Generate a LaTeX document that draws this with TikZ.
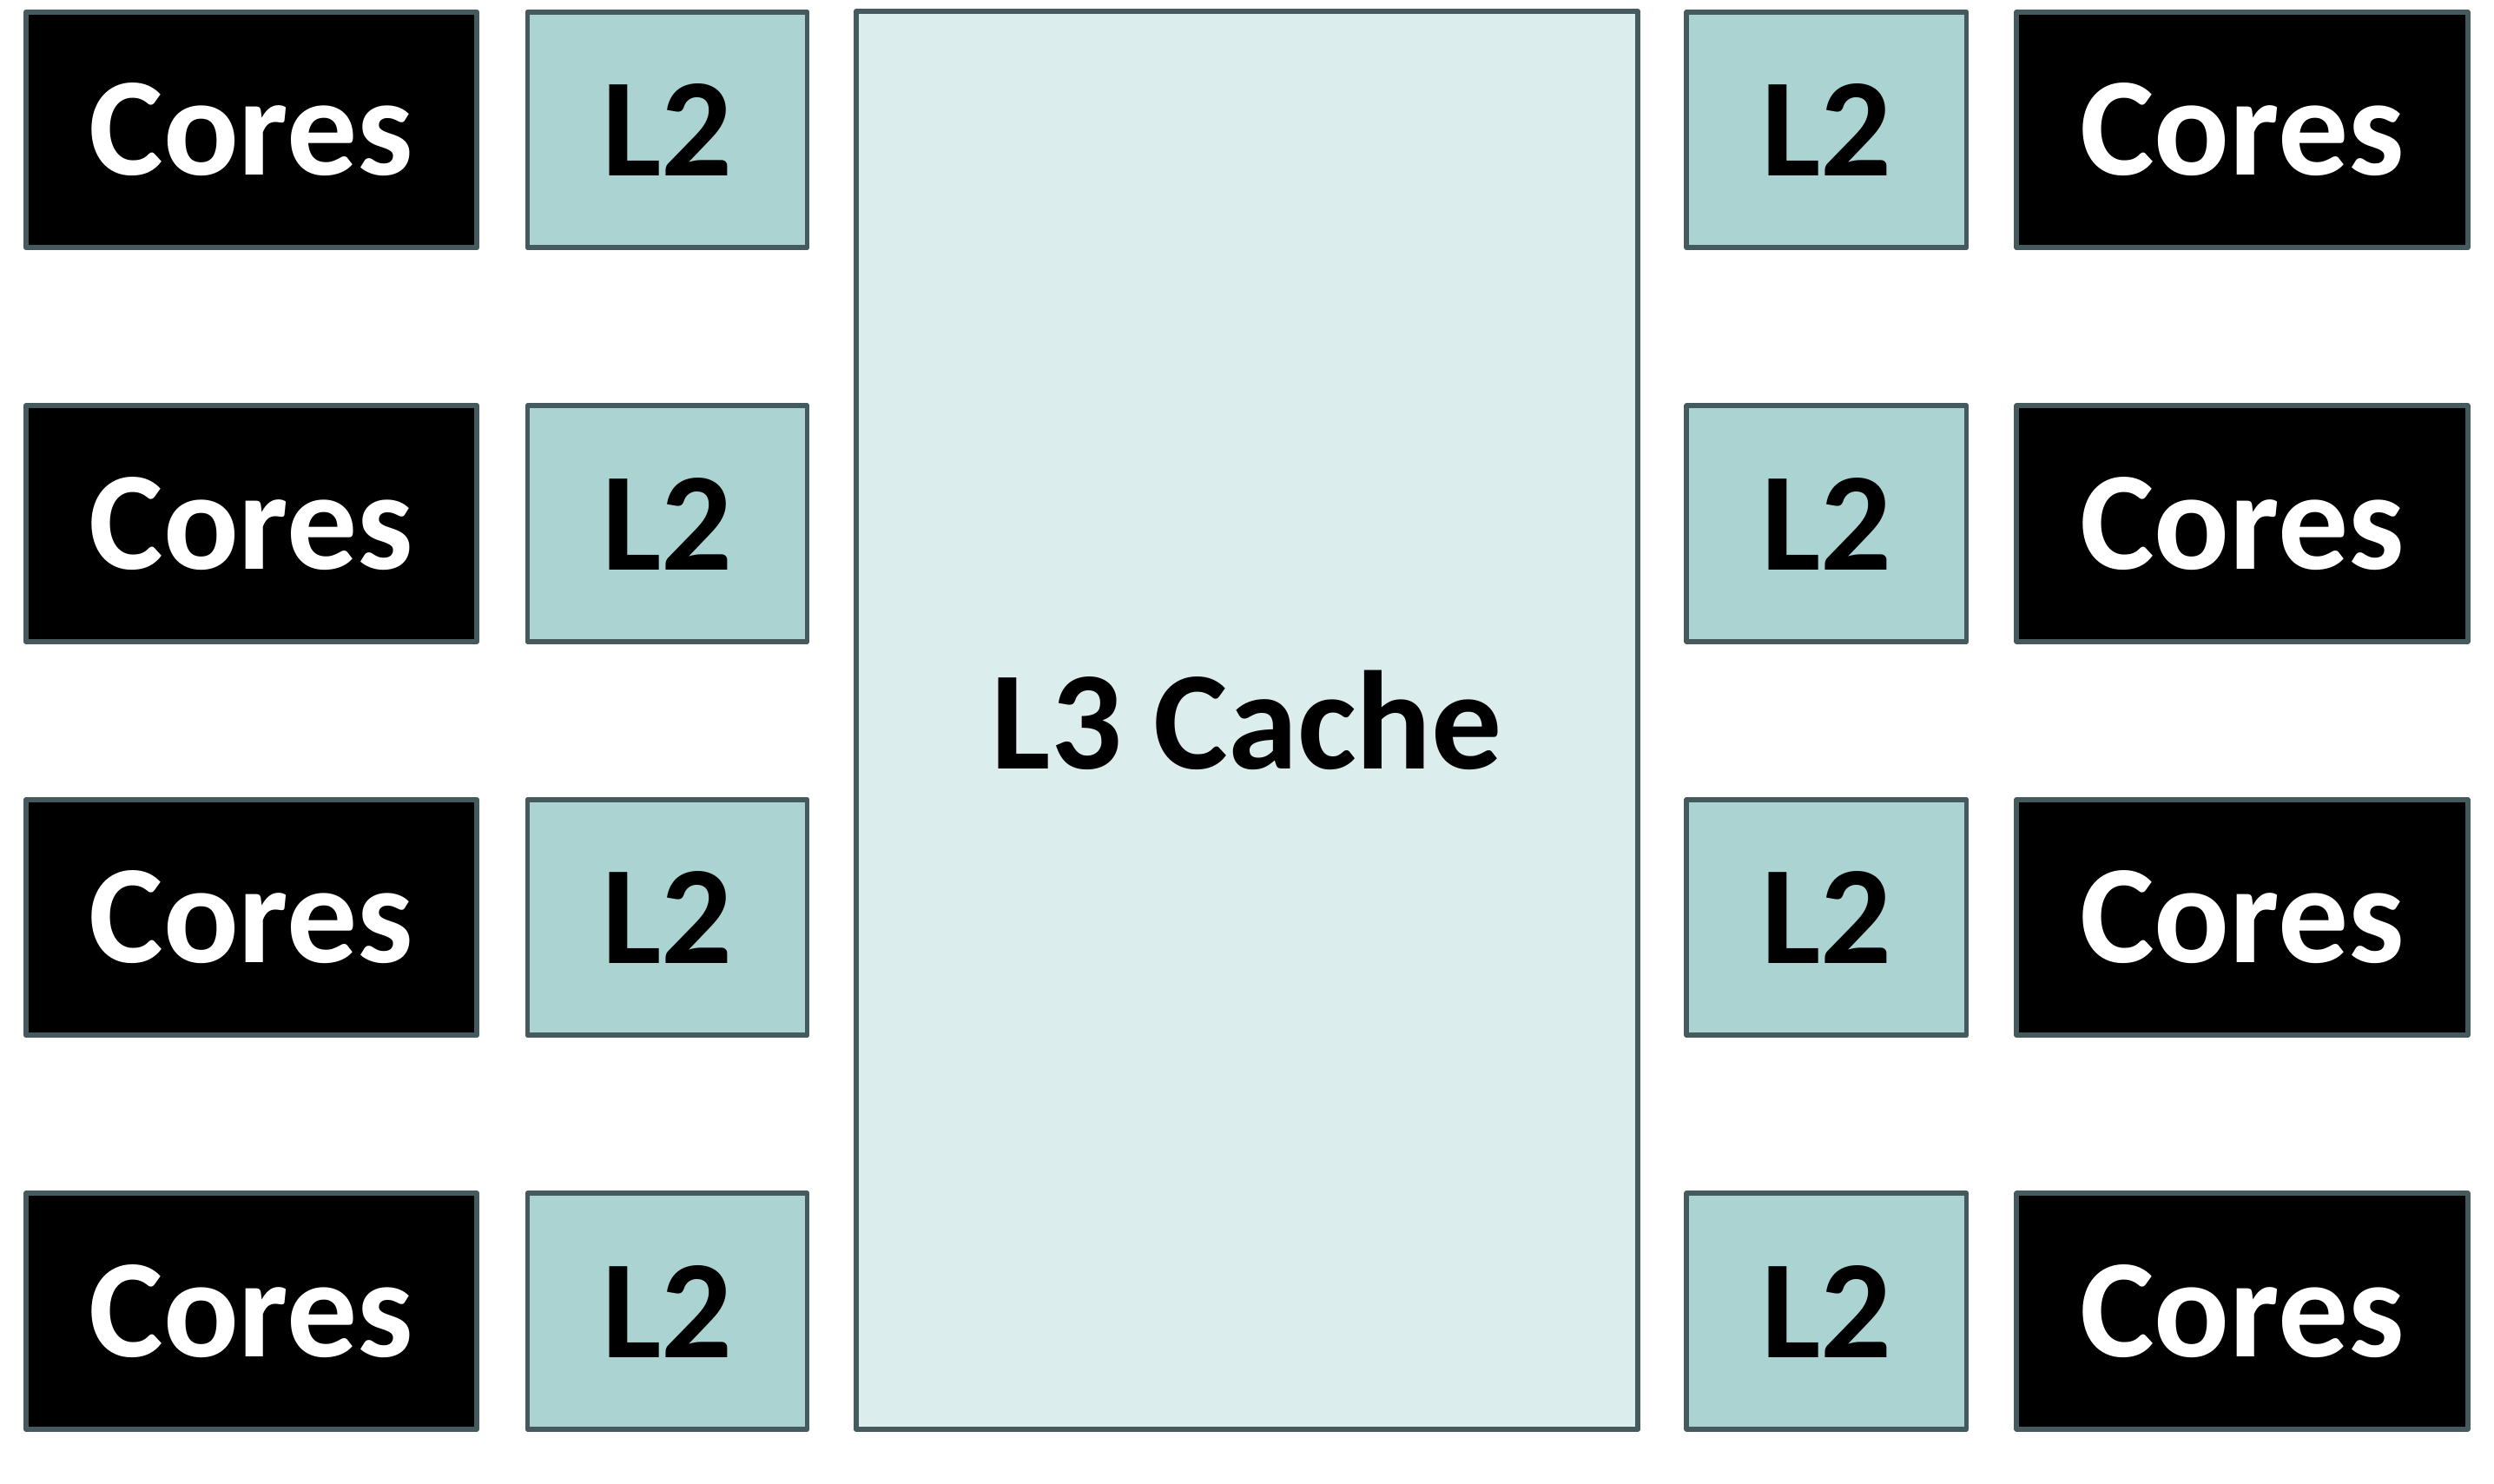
\documentclass[tikz,border=0pt]{standalone}
\usepackage{fontspec}
\setmainfont{Carlito}
\usepackage{tikz}
\usepackage{xcolor}

\definecolor{edgegray}{HTML}{455A5C}
\definecolor{ltwofill}{HTML}{AAD3D2}
\definecolor{lthreefill}{HTML}{DBEDED}

\tikzset{
    cachebox/.style={draw=edgegray, line width=1.6pt, line join=round, inner sep=0pt,
        font=\fontsize{46}{50}\selectfont\bfseries},
    corebox/.style={cachebox, fill=black, text=white, minimum width=5.195cm, minimum height=2.715cm},
    ltwobox/.style={cachebox, fill=ltwofill, text=black, minimum width=3.223cm, minimum height=2.715cm},
    lthreebox/.style={cachebox, fill=lthreefill, text=black, minimum width=9.005cm, minimum height=16.325cm}
}

\begin{document}
\begin{tikzpicture}
                \useasboundingbox (0,0) rectangle (28.72,17.08);

                % Shared L3 in the middle
                \node[lthreebox] (lthree) at (14.36,8.785) {L3 Cache};

                % Four rows of cores and L2 on each side
                \foreach \y [count=\i] in {15.585,11.05,6.515,1.98} {
                    \node[corebox] (coreL\i) at (2.895,\y) {Cores};
                    \node[ltwobox] (ltwoL\i) at (7.685,\y) {L2};
                    \node[ltwobox] (ltwoR\i) at (21.034,\y) {L2};
                    \node[corebox] (coreR\i) at (25.82,\y) {Cores};
                }
            \end{tikzpicture}
\end{document}
